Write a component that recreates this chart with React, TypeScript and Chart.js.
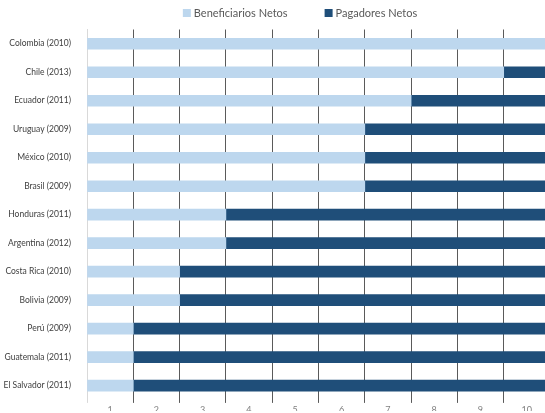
import React, { useEffect, useRef } from "react";
import { Chart, registerables } from "chart.js";

Chart.register(...registerables);

const countries = [
  "Colombia (2010)",
  "Chile (2013)",
  "Ecuador (2011)",
  "Uruguay (2009)",
  "México (2010)",
  "Brasil (2009)",
  "Honduras (2011)",
  "Argentina (2012)",
  "Costa Rica (2010)",
  "Bolivia (2009)",
  "Perú (2009)",
  "Guatemala (2011)",
  "El Salvador (2011)",
];
const beneficiarios = [10, 9, 7, 6, 6, 6, 3, 3, 2, 2, 1, 1, 1];
const pagadores = [0, 1, 3, 4, 4, 4, 7, 7, 8, 8, 9, 9, 9];
const deciles = ["1", "2", "3", "4", "5", "6", "7", "8", "9", "10"];

const LIGHT = "#BDD7EE";
const DARK = "#1F4E79";
const FONT = "Lato, 'Open Sans', sans-serif";

const legendPlugin = {
  id: "customLegend",
  afterDraw(chart: any) {
    const ctx = chart.ctx;
    ctx.save();
    ctx.font = `11px ${FONT}`;
    ctx.textBaseline = "middle";
    ctx.textAlign = "left";
    const items = chart.data.datasets.map((d: any) => ({
      label: d.label,
      color: d.backgroundColor,
      w: ctx.measureText(d.label).width,
    }));
    const box = 8;
    const gap = 3;
    const spacing = 37;
    const total =
      items.reduce((s: number, it: any) => s + box + gap + it.w, 0) +
      spacing * (items.length - 1);
    let x = 300 - total / 2;
    const cy = 13;
    items.forEach((it: any) => {
      ctx.fillStyle = it.color;
      ctx.fillRect(x, cy - box / 2, box, box);
      x += box + gap;
      ctx.fillStyle = "#595959";
      ctx.fillText(it.label, x, cy + 0.5);
      x += it.w + spacing;
    });
    ctx.restore();
  },
};

export default function App() {
  const ref = useRef<HTMLCanvasElement>(null);
  useEffect(() => {
    if (!ref.current) return;
    const chart = new Chart(ref.current, {
      type: "bar",
      data: {
        labels: countries,
        datasets: [
          {
            label: "Beneficiarios Netos",
            data: beneficiarios,
            backgroundColor: LIGHT,
            barThickness: 11,
          },
          {
            label: "Pagadores Netos",
            data: pagadores,
            backgroundColor: DARK,
            barThickness: 11,
          },
        ],
      },
      options: {
        indexAxis: "y",
        animation: false,
        responsive: true,
        maintainAspectRatio: false,
        layout: { padding: { top: 29.5, right: 10, left: 0, bottom: 0 } },
        plugins: {
          legend: { display: false },
          tooltip: { enabled: false },
        },
        scales: {
          x: {
            stacked: true,
            min: 0,
            max: 10,
            border: { display: false },
            grid: {
              color: (c: any) => (c.tick && c.tick.value === 0 ? "#D9D9D9" : "#5A5A5A"),
              lineWidth: 1,
              tickLength: 3,
            },
            ticks: {
              stepSize: 1,
              autoSkip: false,
              maxRotation: 0,
              padding: 2,
              labelOffset: 23,
              color: "#808080",
              font: { family: FONT, size: 9 },
              callback: (_v: any, i: number) => deciles[i] ?? "",
            },
            afterFit: (s: any) => {
              s.height = 11;
            },
          },
          y: {
            stacked: true,
            grid: { display: false },
            border: { display: true, color: "#D9D9D9", width: 1 },
            ticks: {
              padding: 8,
              color: "#404040",
              font: { family: FONT, size: 8.5 },
            },
            afterFit: (s: any) => {
              s.width = 87;
            },
          },
        },
      },
      plugins: [legendPlugin],
    });
    return () => chart.destroy();
  }, []);
  return (
    <div
      style={{
        position: "fixed",
        left: 0,
        top: 0,
        width: 545,
        height: 413,
        overflow: "hidden",
        background: "#fff",
      }}
    >
      <div style={{ width: 560, height: 413, position: "relative" }}>
        <canvas ref={ref} />
      </div>
    </div>
  );
}
